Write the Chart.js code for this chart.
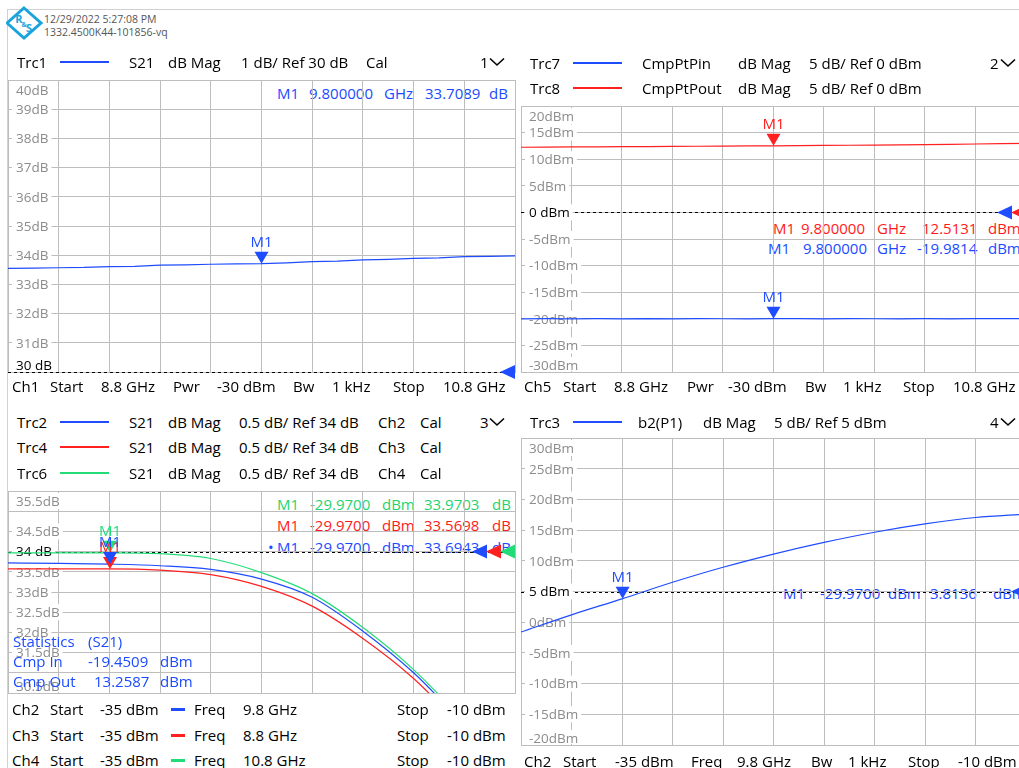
<!DOCTYPE html>
<html>
<head>
<meta charset="utf-8">
<script src="https://cdn.jsdelivr.net/npm/chart.js"></script>
<style>
html,body{margin:0;padding:0;background:#fff;width:1019px;height:768px;overflow:hidden;}
body{position:relative;font-family:"Open Sans","Noto Sans",sans-serif;}
.t{position:absolute;white-space:nowrap;font-size:15px;line-height:20px;color:#000;z-index:3;transform:translateY(-50%);}
.t.ro{z-index:1;}
.cv{position:absolute;z-index:2;}
.ln{position:absolute;height:2px;z-index:3;}
.fr{position:absolute;background:#d0d0d0;z-index:0;}
</style>
</head>
<body>
<div class="fr" style="left:7px;top:9px;width:1012px;height:1px;"></div>
<div class="fr" style="left:7px;top:9px;width:1px;height:759px;"></div>
<svg style="position:absolute;left:6px;top:6px;z-index:4" width="38" height="34" viewBox="0 0 38 34">
  <polygon points="18,2 35,17 18,32 1,17" fill="#fff" stroke="#1ba3dc" stroke-width="3"/>
  <text x="13" y="17" font-family="Open Sans" font-weight="bold" font-size="11" fill="#1ba3dc" text-anchor="middle">R</text>
  <text x="18" y="21" font-family="Open Sans" font-weight="bold" font-size="7" fill="#1ba3dc" text-anchor="middle">&amp;</text>
  <text x="23" y="26" font-family="Open Sans" font-weight="bold" font-size="11" fill="#1ba3dc" text-anchor="middle">S</text>
</svg>
<script>
// ---------------- DATA ----------------
// Panel 1 : Trc1 S21 vs frequency (Ch1)
const freqGHz = [8.8, 8.9, 9.0, 9.1, 9.2, 9.3, 9.4, 9.5, 9.6, 9.7, 9.8, 9.9, 10.0, 10.1, 10.2, 10.3, 10.4, 10.5, 10.6, 10.7, 10.8];
const trc1S21 = [33.55, 33.56, 33.57, 33.58, 33.61, 33.62, 33.66, 33.67, 33.69, 33.70, 33.71, 33.74, 33.78, 33.80, 33.84, 33.86, 33.89, 33.91, 33.95, 33.96, 33.98];
const freqGrid = [8.8, 9.0, 9.2, 9.4, 9.6, 9.8, 10.0, 10.2, 10.4, 10.6, 10.8];
const p1Grid = [30, 31, 32, 33, 34, 35, 36, 37, 38, 39, 40];
const p1Labels = ['40dB', '39dB', '38dB', '37dB', '36dB', '35dB', '34dB', '33dB', '32dB', '31dB', '30 dB'];
const p1LabelValues = [40, 39, 38, 37, 36, 35, 34, 33, 32, 31, 30];

// Panel 2 : Trc7 CmpPtPin, Trc8 CmpPtPout vs frequency (Ch5)
const trc7Pin = [-20.00, -19.97, -20.00, -19.98, -20.02, -19.95, -20.00, -19.97, -19.99, -20.00, -19.98, -19.96, -20.00, -19.96, -19.99, -20.00, -19.97, -20.00, -19.96, -19.98, -19.97];
const trc8Pout = [12.25, 12.27, 12.30, 12.33, 12.35, 12.37, 12.40, 12.43, 12.46, 12.49, 12.51, 12.55, 12.58, 12.62, 12.66, 12.71, 12.75, 12.80, 12.86, 12.92, 12.97];
const p2Grid = [-30, -25, -20, -15, -10, -5, 0, 5, 10, 15, 20];
const p2LabelValues = [20, 15, 10, 5, 0, -5, -10, -15, -20, -25, -30];
const p2Labels = ['20dBm', '15dBm', '10dBm', '5dBm', '0 dBm', '-5dBm', '-10dBm', '-15dBm', '-20dBm', '-25dBm', '-30dBm'];

// Panel 3 : Trc2/Trc4/Trc6 S21 vs input power (Ch2 9.8 GHz, Ch3 8.8 GHz, Ch4 10.8 GHz)
const pinDbm = [-35, -32.5, -30, -27.5, -25, -22.5, -20, -17.5, -15, -12.5];
const trc2S21 = [33.72, 33.71, 33.69, 33.65, 33.56, 33.32, 32.87, 32.03, 31.00, 29.72];
const trc4S21 = [33.57, 33.57, 33.57, 33.54, 33.43, 33.14, 32.65, 31.85, 30.86, 29.60];
const trc6S21 = [33.97, 33.97, 33.97, 33.95, 33.83, 33.48, 32.96, 32.12, 31.08, 29.80];
const pinGrid = [-35, -32.5, -30, -27.5, -25, -22.5, -20, -17.5, -15, -12.5, -10];
const p3Grid = [30.5, 31, 31.5, 32, 32.5, 33, 33.5, 34, 34.5, 35, 35.5];
const p3LabelValues = [35.5, 34.5, 34, 33.5, 33, 32.5, 32, 31.5, 30.5];
const p3Labels = ['35.5dB', '34.5dB', '34 dB', '33.5dB', '33dB', '32.5dB', '32dB', '31.5dB', '30.5dB'];

// Panel 4 : Trc3 b2(P1) vs input power (Ch2)
const pinDbm4 = [-35, -32.5, -30, -27.5, -25, -22.5, -20, -17.5, -15, -12.5, -10];
const trc3B2 = [-1.6, 1.2, 3.8, 6.5, 8.95, 11.1, 13.0, 14.65, 16.0, 17.05, 17.6];
const p4Grid = [-20, -15, -10, -5, 0, 5, 10, 15, 20, 25, 30];
const p4LabelValues = [30, 25, 20, 15, 10, 5, 0, -5, -10, -15, -20];
const p4Labels = ['30dBm', '25dBm', '20dBm', '15dBm', '10dBm', '5 dBm', '0dBm', '-5dBm', '-10dBm', '-15dBm', '-20dBm'];

// ---------------- STYLE ----------------
const FONT = '"Open Sans", "Noto Sans", sans-serif';
const GRID = '#bdbdbd';
const BLUE = '#1f4cff', RED = '#ff2020', GREEN = '#22dd77';
const BLUE_T = '#1a4bff', RED_T = '#ff1a1a', GREEN_T = '#1ed46c';

// ---------------- TEXT HELPERS ----------------
function txt(x, y, s, color, under) {
  const d = document.createElement('div');
  d.className = 't' + (under ? ' ro' : '');
  d.style.left = x + 'px'; d.style.top = y + 'px';
  if (color) d.style.color = color;
  d.textContent = s;
  document.body.appendChild(d);
  return d;
}
function row(y, items, color, under) { return items.map(([x, s]) => txt(x, y, s, color, under)); }
function legendLine(x, y, w, color, h) {
  const d = document.createElement('div'); d.className = 'ln';
  d.style.left = x + 'px'; d.style.top = (y - 1) + 'px'; d.style.width = w + 'px';
  d.style.background = color; if (h) d.style.height = h + 'px';
  document.body.appendChild(d);
}
function chevron(x, y) {
  const ns = 'http://www.w3.org/2000/svg';
  const s = document.createElementNS(ns, 'svg');
  s.setAttribute('width', '18'); s.setAttribute('height', '10');
  s.style.cssText = 'position:absolute;z-index:3;left:' + x + 'px;top:' + (y - 4) + 'px';
  const p = document.createElementNS(ns, 'polyline');
  p.setAttribute('points', '2,1.5 9,8 16,1.5'); p.setAttribute('fill', 'none');
  p.setAttribute('stroke', '#000'); p.setAttribute('stroke-width', '1.6');
  s.appendChild(p); document.body.appendChild(s);
}

// ---------------- CHART FACTORY ----------------
function makeChart(box, cfg) {
  const pad = 12;
  const wrap = document.createElement('div'); wrap.className = 'cv';
  wrap.style.left = (box.x - pad) + 'px'; wrap.style.top = (box.y - pad) + 'px';
  const c = document.createElement('canvas');
  c.width = box.w + 2 * pad; c.height = box.h + 2 * pad;
  c.style.width = c.width + 'px'; c.style.height = c.height + 'px';
  wrap.appendChild(c); document.body.appendChild(wrap);

  const plugin = {
    id: 'vna',
    beforeDatasetsDraw(chart) {
      const ctx = chart.ctx, a = chart.chartArea, ys = chart.scales.y;
      ctx.save();
      const ry = Math.round(ys.getPixelForValue(cfg.ref)) + 0.5;
      ctx.strokeStyle = '#000'; ctx.lineWidth = 1; ctx.setLineDash([3, 3]);
      ctx.beginPath(); ctx.moveTo(a.left, ry); ctx.lineTo(a.right, ry); ctx.stroke();
      ctx.setLineDash([]);
      ctx.font = '13.5px ' + FONT; ctx.textBaseline = 'middle'; ctx.textAlign = 'left';
      cfg.labelValues.forEach((v, i) => {
        const s = cfg.labelTexts[i];
        let py = ys.getPixelForValue(v);
        py = Math.max(a.top + 10, Math.min(a.bottom - 7, py));
        const w = ctx.measureText(s).width;
        const t = Math.max(a.top + 1, py - 8), b = Math.min(a.bottom - 1, py + 8);
        ctx.fillStyle = '#fff'; ctx.fillRect(a.left + 4, t, w + 7, b - t);
        ctx.fillStyle = v === cfg.ref ? '#000' : '#8c8c8c';
        ctx.fillText(s, a.left + 8, py + 1);
      });
      ctx.restore();
    },
    afterDatasetsDraw(chart) {
      const ctx = chart.ctx, a = chart.chartArea, xs = chart.scales.x, ys = chart.scales.y;
      ctx.save();
      const ry = ys.getPixelForValue(cfg.ref);
      const n = cfg.arrowColors.length;
      cfg.arrowColors.forEach((col, i) => {
        const xr = a.right - 14 * (n - 1 - i);
        ctx.fillStyle = col; ctx.beginPath();
        ctx.moveTo(xr - 15, ry); ctx.lineTo(xr, ry - 7); ctx.lineTo(xr, ry + 7); ctx.closePath(); ctx.fill();
      });
      ctx.font = '15px ' + FONT; ctx.textAlign = 'center'; ctx.textBaseline = 'alphabetic';
      cfg.markers.forEach(m => {
        const px = xs.getPixelForValue(m.x), py = ys.getPixelForValue(m.y);
        ctx.fillStyle = m.color;
        ctx.beginPath(); ctx.moveTo(px, py); ctx.lineTo(px - 7, py - 12); ctx.lineTo(px + 7, py - 12); ctx.closePath(); ctx.fill();
        ctx.fillText('M1', px, py - 17);
      });
      ctx.restore();
    }
  };

  return new Chart(c, {
    type: 'line',
    data: {
      datasets: cfg.series.map(s => ({
        data: s.x.map((xv, i) => ({ x: xv, y: s.y[i] })),
        borderColor: s.color, borderWidth: 1.2, pointRadius: 0,
        cubicInterpolationMode: s.smooth ? 'monotone' : 'default', tension: 0, clip: 0
      }))
    },
    options: {
      responsive: false, animation: false, events: [],
      layout: { padding: pad },
      plugins: { legend: { display: false }, tooltip: { enabled: false } },
      scales: {
        x: {
          type: 'linear', min: cfg.xMin, max: cfg.xMax,
          afterBuildTicks: sc => { sc.ticks = cfg.xGrid.map(v => ({ value: v })); },
          ticks: { display: false },
          grid: { color: GRID, drawTicks: false, lineWidth: 1 },
          border: { color: GRID }
        },
        y: {
          type: 'linear', min: cfg.yMin, max: cfg.yMax,
          afterBuildTicks: sc => { sc.ticks = cfg.yGrid.map(v => ({ value: v })); },
          ticks: { display: false },
          grid: { color: GRID, drawTicks: false, lineWidth: 1 },
          border: { color: GRID }
        }
      }
    },
    plugins: [plugin]
  });
}

// ---------------- HEADER TEXTS ----------------
row(19, [[44, '12/29/2022 5:27:08 PM']], '#555').concat(row(32, [[44, '1332.4500K44-101856-vq']], '#555'))
  .forEach(d => { d.style.fontSize = '10.5px'; d.style.lineHeight = '13px'; });

// Panel 1 header
row(62, [[17, 'Trc1'], [129, 'S21'], [168, 'dB Mag'], [241, '1 dB/ Ref 30 dB'], [366, 'Cal'], [480, '1']]);
legendLine(60, 62, 49, BLUE); chevron(488, 61);
// Panel 2 header
row(63, [[530, 'Trc7'], [642, 'CmpPtPin'], [738, 'dB Mag'], [809, '5 dB/ Ref 0 dBm'], [990, '2']]);
row(88, [[530, 'Trc8'], [642, 'CmpPtPout'], [738, 'dB Mag'], [809, '5 dB/ Ref 0 dBm']]);
legendLine(573, 63, 49, BLUE); legendLine(573, 88, 49, RED); chevron(999, 62);
// Panel 3 header
row(422, [[17, 'Trc2'], [129, 'S21'], [168, 'dB Mag'], [239, '0.5 dB/ Ref 34 dB'], [378, 'Ch2'], [420, 'Cal'], [480, '3']]);
row(447, [[17, 'Trc4'], [129, 'S21'], [168, 'dB Mag'], [239, '0.5 dB/ Ref 34 dB'], [378, 'Ch3'], [420, 'Cal']]);
row(473, [[17, 'Trc6'], [129, 'S21'], [168, 'dB Mag'], [239, '0.5 dB/ Ref 34 dB'], [378, 'Ch4'], [420, 'Cal']]);
legendLine(60, 422, 49, BLUE); legendLine(60, 447, 49, RED); legendLine(60, 473, 49, GREEN); chevron(488, 421);
// Panel 4 header
row(422, [[530, 'Trc3'], [638, 'b2(P1)'], [703, 'dB Mag'], [774, '5 dB/ Ref 5 dBm'], [990, '4']]);
legendLine(573, 422, 49, BLUE); chevron(999, 421);

// ---------------- FOOTERS ----------------
row(386, [[12, 'Ch1'], [50, 'Start'], [101, '8.8 GHz'], [173, 'Pwr'], [217, '-30 dBm'], [293, 'Bw'], [332, '1 kHz'], [393, 'Stop'], [443, '10.8 GHz']]);
row(386, [[524, 'Ch5'], [563, 'Start'], [614, '8.8 GHz'], [687, 'Pwr'], [728, '-30 dBm'], [805, 'Bw'], [843, '1 kHz'], [903, 'Stop'], [953, '10.8 GHz']]);
row(709, [[12, 'Ch2'], [50, 'Start'], [100, '-35 dBm'], [194, 'Freq'], [243, '9.8 GHz'], [397, 'Stop'], [447, '-10 dBm']]);
row(735, [[12, 'Ch3'], [50, 'Start'], [100, '-35 dBm'], [194, 'Freq'], [243, '8.8 GHz'], [397, 'Stop'], [447, '-10 dBm']]);
row(760, [[12, 'Ch4'], [50, 'Start'], [100, '-35 dBm'], [194, 'Freq'], [243, '10.8 GHz'], [397, 'Stop'], [447, '-10 dBm']]);
legendLine(171, 709, 14, BLUE, 3); legendLine(171, 735, 14, RED, 3); legendLine(171, 760, 14, GREEN, 3);
row(761, [[524, 'Ch2'], [563, 'Start'], [615, '-35 dBm'], [691, 'Freq'], [737, '9.8 GHz'], [811, 'Bw'], [848, '1 kHz'], [908, 'Stop'], [958, '-10 dBm']]);

// ---------------- MARKER READOUTS ----------------
row(93, [[277, 'M1'], [309, '9.800000'], [384, 'GHz'], [425, '33.7089'], [489, 'dB']], BLUE_T, true);
row(228, [[773, 'M1'], [801, '9.800000'], [877, 'GHz'], [922, '12.5131'], [988, 'dBm']], RED_T, true);
row(248, [[768, 'M1'], [803, '9.800000'], [877, 'GHz'], [917, '-19.9814'], [988, 'dBm']], BLUE_T, true);
row(504, [[277, 'M1'], [310, '-29.9700'], [382, 'dBm'], [424, '33.9703'], [492, 'dB']], GREEN_T, true);
row(525, [[277, 'M1'], [310, '-29.9700'], [382, 'dBm'], [424, '33.5698'], [492, 'dB']], RED_T, true);
row(547, [[268, '•'], [277, 'M1'], [310, '-29.9700'], [382, 'dBm'], [424, '33.6943'], [492, 'dB']], BLUE_T, true);
row(593, [[783, 'M1'], [820, '-29.9700'], [888, 'dBm'], [930, '3.8136'], [993, 'dBm']], BLUE_T, true);
// Statistics block
row(641, [[13, 'Statistics'], [88, '(S21)']], BLUE_T);
row(661, [[13, 'Cmp In'], [88, '-19.4509'], [160, 'dBm']], BLUE_T);
row(681, [[13, 'Cmp Out'], [94, '13.2587'], [160, 'dBm']], BLUE_T);

// ---------------- CHARTS ----------------
makeChart({ x: 8, y: 80, w: 507, h: 292 }, {
  xMin: 8.8, xMax: 10.8, yMin: 30, yMax: 40, xGrid: freqGrid, yGrid: p1Grid,
  labelValues: p1LabelValues, labelTexts: p1Labels, ref: 30, arrowColors: [BLUE],
  series: [{ x: freqGHz, y: trc1S21, color: BLUE }],
  markers: [{ x: 9.8, y: 33.7089, color: BLUE }]
});
makeChart({ x: 521, y: 106, w: 505, h: 266 }, {
  xMin: 8.8, xMax: 10.8, yMin: -30, yMax: 20, xGrid: freqGrid, yGrid: p2Grid,
  labelValues: p2LabelValues, labelTexts: p2Labels, ref: 0, arrowColors: [BLUE, RED],
  series: [{ x: freqGHz, y: trc8Pout, color: RED }, { x: freqGHz, y: trc7Pin, color: BLUE }],
  markers: [{ x: 9.8, y: 12.5131, color: RED }, { x: 9.8, y: -19.9814, color: BLUE }]
});
makeChart({ x: 8, y: 491, w: 507, h: 202 }, {
  xMin: -35, xMax: -10, yMin: 30.5, yMax: 35.5, xGrid: pinGrid, yGrid: p3Grid,
  labelValues: p3LabelValues, labelTexts: p3Labels, ref: 34, arrowColors: [BLUE, RED, GREEN],
  series: [
    { x: pinDbm, y: trc6S21, color: GREEN, smooth: true },
    { x: pinDbm, y: trc4S21, color: RED, smooth: true },
    { x: pinDbm, y: trc2S21, color: BLUE, smooth: true }
  ],
  markers: [{ x: -29.97, y: 33.9703, color: GREEN }, { x: -29.97, y: 33.5698, color: RED }, { x: -29.97, y: 33.6943, color: BLUE }]
});
makeChart({ x: 521, y: 438, w: 505, h: 307 }, {
  xMin: -35, xMax: -10, yMin: -20, yMax: 30, xGrid: pinGrid, yGrid: p4Grid,
  labelValues: p4LabelValues, labelTexts: p4Labels, ref: 5, arrowColors: [BLUE],
  series: [{ x: pinDbm4, y: trc3B2, color: BLUE, smooth: true }],
  markers: [{ x: -29.97, y: 3.8136, color: BLUE }]
});
</script>
</body>
</html>
